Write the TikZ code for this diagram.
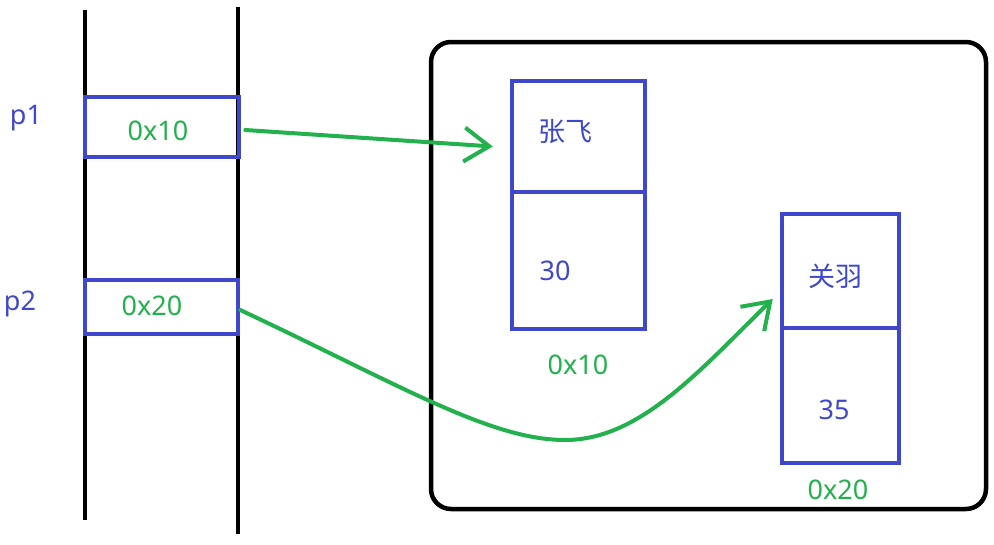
\documentclass[tikz,border=0pt]{standalone}
\usepackage{fontspec}
\setmainfont{Noto Sans}
\newfontfamily\cjk{Noto Sans CJK SC}
\usetikzlibrary{arrows.meta}
\definecolor{cellblue}{HTML}{3F48CC}
\definecolor{addrgreen}{HTML}{22B14C}

\begin{document}
\begin{tikzpicture}[x=1pt,y=-1pt,
  cell/.style={draw=cellblue,line width=4.5pt,inner sep=0pt},
  addr/.style={text=addrgreen,font=\fontsize{27}{30}\selectfont,inner sep=0pt},
  val/.style={text=cellblue,font=\fontsize{27}{30}\selectfont,inner sep=0pt},
  ptr/.style={draw=addrgreen,line width=4pt,line cap=round,-{Straight Barb[length=25pt,width=34pt,line width=4pt]}}]
\useasboundingbox (0,0) rectangle (994,544);
% stack
\draw[line width=4.5pt] (85,10) -- (85,520);
\draw[line width=4.5pt] (238,7) -- (238,534);
\node[cell,minimum width=154pt,minimum height=60pt] (p1cell) at (162,127) {};
\node[cell,minimum width=153pt,minimum height=54pt] (p2cell) at (161.5,307) {};
\node[addr] (p1addr) at (158,131) {0x10};
\node[addr] (p2addr) at (152,306) {0x20};
\node[val] (p1lbl) at (26,118) {p1};
\node[val] (p2lbl) at (20,304) {p2};
% heap
\node[draw,line width=4.5pt,rounded corners=20pt,minimum width=555pt,minimum height=467pt] (heap) at (708.5,275.5) {};
\node[cell,minimum width=133pt,minimum height=111pt] (zfname) at (578.5,136.5) {};
\node[cell,minimum width=133pt,minimum height=137pt] (zfage) at (578.5,260.5) {};
\node[cell,minimum width=117pt,minimum height=114pt] (gyname) at (840.5,271) {};
\node[cell,minimum width=117pt,minimum height=135pt] (gyage) at (840.5,395.5) {};
\node[val,font=\cjk\fontsize{27}{30}\selectfont] (zfnametxt) at (565,132) {张飞};
\node[val] (zfagetxt) at (555,271) {30};
\node[addr] (zfaddr) at (578,365) {0x10};
\node[val,font=\cjk\fontsize{27}{30}\selectfont] (gynametxt) at (835,276) {关羽};
\node[val] (gyagetxt) at (834,410) {35};
\node[addr] (gyaddr) at (838,490) {0x20};
% pointers
\coordinate (dip) at (565,440);
\draw[ptr] ([xshift=4pt,yshift=-3pt]p1cell.east) -- ([xshift=-17pt,yshift=-10pt]zfname.west);
\draw[ptr] ([yshift=-3pt]p2cell.east) .. controls (400,385) and (490,440) .. (dip)
  .. controls (640,440) and (700,370) .. ([xshift=-7pt,yshift=-28pt]gyname.west);
\end{tikzpicture}
\end{document}
